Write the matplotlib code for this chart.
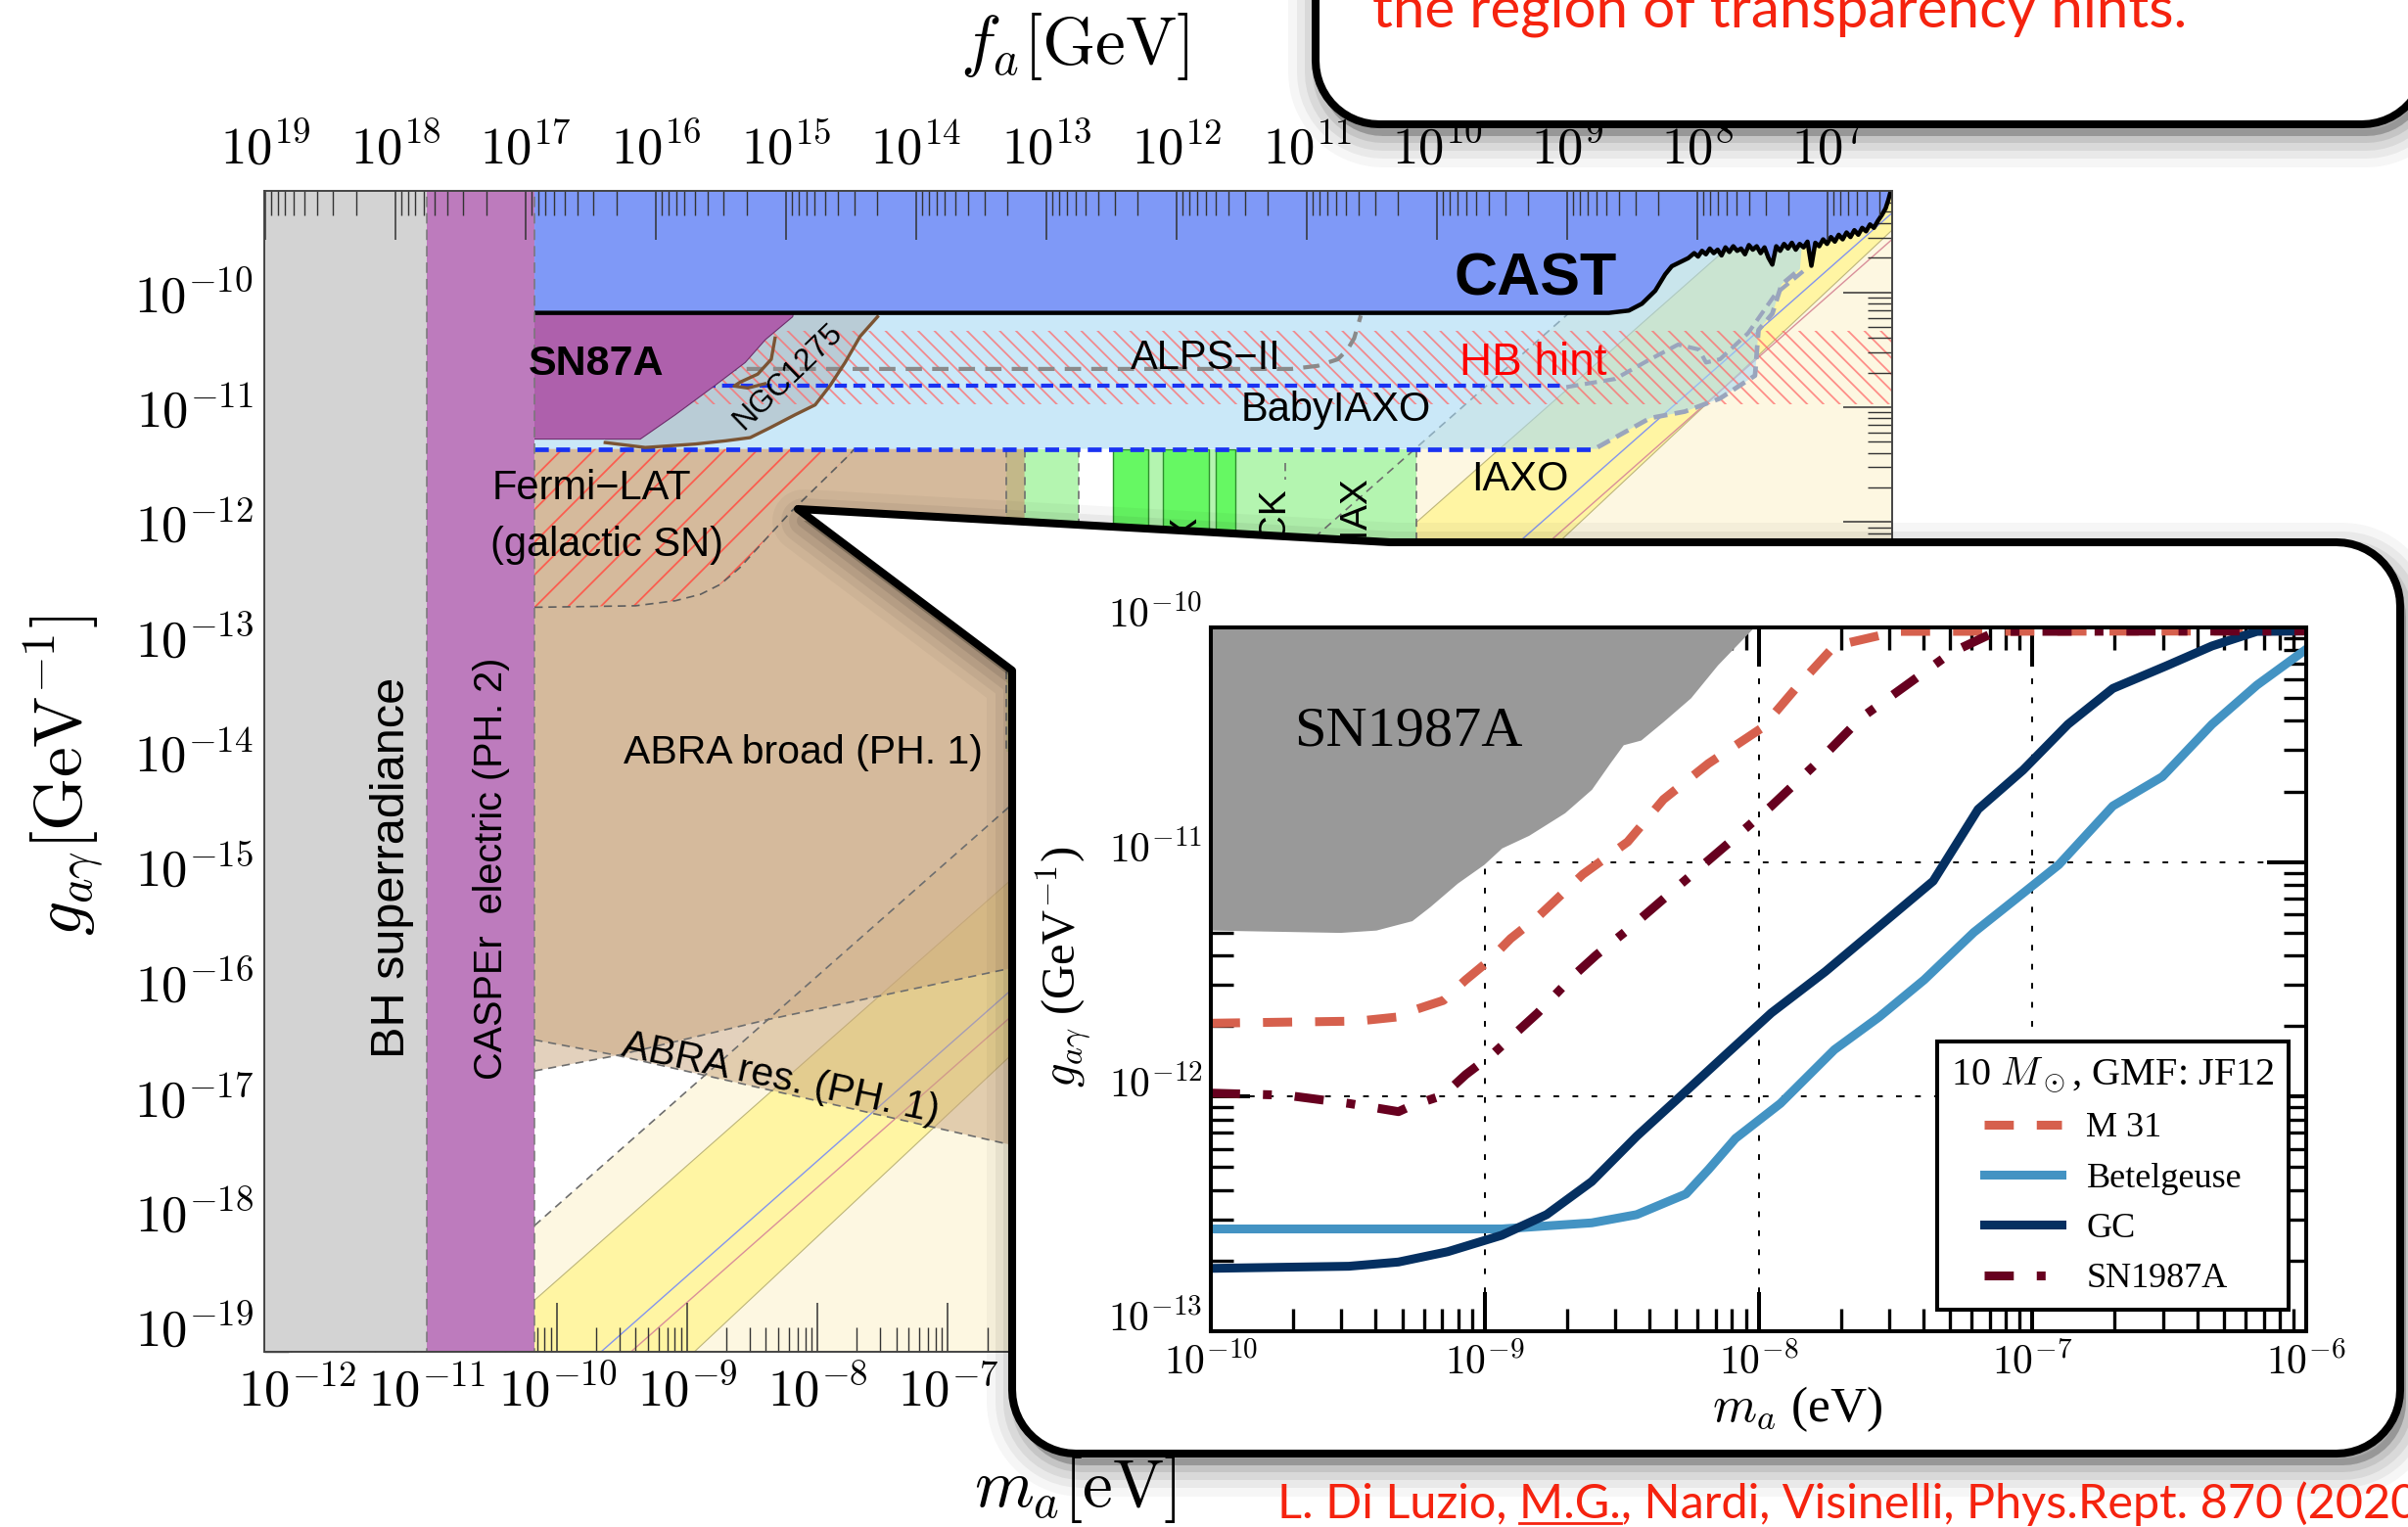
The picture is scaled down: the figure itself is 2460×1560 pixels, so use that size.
import numpy as np
import matplotlib.pyplot as plt
from matplotlib.patches import Polygon
from matplotlib.lines import Line2D
from matplotlib.ticker import LogLocator, NullFormatter

plt.rcParams['mathtext.fontset'] = 'cm'
plt.rcParams['hatch.linewidth'] = 1.3

W, H = 2460, 1560
SANS = 'Liberation Sans'
SERIF = 'Liberation Serif'
SLIDE = 'Lato'

# ---------------- overview plot, all values are log10(m_a/eV), log10(g/GeV^-1)
m_lim = (-12.25, 0.25)
g_lim = (-19.224, -9.118)
fa_per_ma = 5.7e6                       # f_a [GeV] = 5.7e6 / m_a [eV]
m_dec = list(range(-12, 1))
m_dec_shown = list(range(-12, -6))      # the rest sit under the zoom panel
g_dec = list(range(-19, -9))
fa_dec = list(range(7, 20))

bh_edge = -11.0
casper_edge = -10.175
iaxo_g = -11.364
babyiaxo_g = -10.815
hb_g = (-10.976, -10.334)
qcd_lines = {'ksvz': -9.56, 'dfsz': -9.79}     # log g = log m + offset
cream_k = -7.95

cast_lm = [-10.175, -1.925, -1.772, -1.671, -1.569, -1.493, -1.442, -1.315,
           -1.27, -1.24, -1.21, -1.18, -1.15, -1.12, -1.09, -1.06, -1.03, -1.00,
           -0.97, -0.94, -0.91, -0.88, -0.85, -0.82, -0.79, -0.76, -0.73, -0.70,
           -0.67, -0.64, -0.61, -0.58, -0.55, -0.52, -0.49, -0.46, -0.43, -0.40,
           -0.37, -0.34, -0.31, -0.28, -0.25, -0.22, -0.19, -0.16, -0.13, -0.10,
           -0.07, -0.04, -0.01, 0.02, 0.05, 0.08, 0.11, 0.14, 0.17, 0.20,
           0.22, 0.24]
cast_lg = [-10.18, -10.18, -10.16, -10.10, -9.987, -9.845, -9.774, -9.703,
           -9.66, -9.69, -9.64, -9.67, -9.62, -9.66, -9.63, -9.68, -9.61, -9.65,
           -9.60, -9.64, -9.62, -9.67, -9.59, -9.63, -9.60, -9.66, -9.61, -9.70,
           -9.76, -9.60, -9.64, -9.58, -9.62, -9.57, -9.63, -9.58, -9.61, -9.56,
           -9.77, -9.57, -9.60, -9.54, -9.58, -9.52, -9.56, -9.50, -9.54, -9.48,
           -9.52, -9.46, -9.50, -9.44, -9.47, -9.41, -9.44, -9.38, -9.33, -9.27,
           -9.20, -9.118]

sn87a_lm = [-10.3, -8.17, -8.193, -8.403, -8.557, -8.788, -9.094, -9.363, -10.3]
sn87a_lg = [-10.10, -10.10, -10.214, -10.414, -10.612, -10.811, -11.067, -11.279, -11.279]

ngc_lm = [-9.632, -9.324, -8.941, -8.710, -8.519, -8.366, -8.174, -8.020,
          -7.904, -7.790, -7.675, -7.541, -7.50]
ngc_lg = [-11.309, -11.352, -11.322, -11.294, -11.266, -11.180, -11.067, -10.981,
          -10.811, -10.612, -10.385, -10.214, -10.10]
ngc_loop_lm = [-8.328, -8.357, -8.461, -8.596, -8.642, -8.538, -8.406]
ngc_loop_lg = [-10.400, -10.584, -10.713, -10.783, -10.817, -10.834, -10.797]

fermi_lm = [-10.175, -9.40, -9.094, -8.90, -8.749, -8.60, -8.442, -8.212, -7.981, -7.751, -7.72]
fermi_lg = [-12.743, -12.730, -12.686, -12.630, -12.544, -12.400, -12.203, -11.918,
            -11.663, -11.408, -11.364]

abra_edge = -6.413
abra_res_lm = [-10.175, -9.540, -6.413]
abra_res_lg = [-16.509, -16.644, -17.449]
abra_broad_lm = [-10.175, -9.540, -8.375, -6.563, -6.413]
abra_broad_lg = [-16.779, -16.644, -16.330, -15.896, -15.860]

band_lm = [-10.175, 0.30, 0.30, -2.254, -8.942, -9.678, -10.175]
band_lg = [-18.775, -8.30, -9.406, -12.118, -19.218, -20.0, -20.0]

green_light = [(-6.554, -6.0), (-5.73, -3.406)]
green_bright = [(-5.73, -5.46), (-5.35, -4.998), (-4.943, -4.797)]
green_dashes = [-6.554, -6.413, -6.0, -3.406]

alps_lm = [-10.175, -4.363, -4.16, -4.007, -3.932, -3.881, -3.830]
alps_lg = [-10.668, -10.668, -10.641, -10.584, -10.499, -10.401, -10.203]

iaxo_lm = [-2.012, -1.609, -1.341, -1.072, -0.803, -0.776, -0.670, -0.599, -0.458]
iaxo_lg = [-11.350, -11.096, -11.039, -10.925, -10.726, -10.329, -10.187, -9.933, -9.799]
biaxo_lm = [-2.252, -1.877, -1.608, -1.394, -1.233, -1.179, -1.072, -0.857, -0.646, -0.399]
biaxo_lg = [-10.826, -10.755, -10.584, -10.456, -10.499, -10.612, -10.584, -10.357,
            -10.016, -9.786]

# ---------------- zoomed panel (log10 values)
sn_excl_lm = [-10.0, -9.528, -9.397, -9.266, -9.20, -9.10, -9.003, -8.938, -8.839,
              -8.708, -8.61, -8.544, -8.494, -8.43, -8.347, -8.248, -8.15, -8.018]
sn_excl_lg = [-11.29, -11.30, -11.29, -11.25, -11.19, -11.09, -11.01, -10.94, -10.886,
              -10.79, -10.69, -10.58, -10.50, -10.48, -10.40, -10.30, -10.16, -10.0]

m31_lm = [-10.0, -9.463, -9.315, -9.266, -9.151, -9.069, -8.987, -8.905, -8.806,
          -8.642, -8.478, -8.347, -8.183, -7.986, -7.854, -7.723, -7.493, -6.0]
m31_lg = [-11.687, -11.678, -11.66, -11.634, -11.59, -11.502, -11.423, -11.326, -11.234,
          -11.053, -10.914, -10.733, -10.58, -10.427, -10.246, -10.079, -10.017, -10.015]

bet_lm = [-10.0, -8.938, -8.609, -8.445, -8.265, -8.182, -8.084, -7.92, -7.723, -7.559,
          -7.395, -7.214, -7.034, -6.903, -6.706, -6.525, -6.344, -6.18, -6.0]
bet_lg = [-12.564, -12.564, -12.538, -12.503, -12.415, -12.31, -12.178, -12.029, -11.80,
          -11.66, -11.502, -11.30, -11.133, -11.011, -10.761, -10.636, -10.413, -10.246,
          -10.093]

gc_lm = [-10.0, -9.496, -9.315, -9.135, -8.938, -8.774, -8.609, -8.445, -8.281, -8.117,
         -7.953, -7.756, -7.559, -7.362, -7.198, -7.034, -6.870, -6.706, -6.509, -6.344,
         -6.18, -6.0]
gc_lg = [-12.732, -12.723, -12.705, -12.661, -12.591, -12.503, -12.362, -12.169, -11.994,
         -11.818, -11.643, -11.467, -11.274, -11.081, -10.775, -10.608, -10.413, -10.26,
         -10.163, -10.079, -10.017, -10.015]

sn1987a_lm = [-10.0, -9.725, -9.496, -9.315, -9.266, -9.151, -9.069, -8.97, -8.806, -8.675,
              -8.593, -8.478, -8.30, -8.117, -7.953, -7.789, -7.625, -7.46, -7.296,
              -7.132, -6.0]
sn1987a_lg = [-11.985, -11.994, -12.029, -12.064, -12.038, -11.994, -11.906, -11.818,
              -11.643, -11.484, -11.397, -11.289, -11.11, -10.927, -10.761, -10.58,
              -10.385, -10.246, -10.107, -10.017, -10.015]

star_names = ['M 31', 'Betelgeuse', 'GC', 'SN1987A']
star_colors = ['#d6604d', '#4393c3', '#053061', '#67001f']


def P(a):
    return 10.0 ** np.asarray(a, dtype=float)


def px_box(l, t, r, b):
    return [l / W, 1 - b / H, (r - l) / W, (b - t) / H]


def fig_xy(pts):
    return [(x / W, 1 - y / H) for x, y in pts]


fig = plt.figure(figsize=(W / 100, H / 100), dpi=100)
fig.patch.set_facecolor('white')

# ======================= overview plot =======================
ax = fig.add_axes(px_box(270, 195, 1933, 1381))
ax.set_xscale('log')
ax.set_yscale('log')
ax.set_xlim(*P(m_lim))
ax.set_ylim(*P(g_lim))

top, bottom, right = -9.0, -20.0, 1.0


def fill(lm, lg, z, **kw):
    kw.setdefault('lw', 0)
    ax.fill(P(lm), P(lg), zorder=z, **kw)


def dashed(lm, lg, z=1.25, color='#6e6e6e', lw=1.2, ls=(0, (5, 3.5))):
    ax.plot(P(lm), P(lg), color=color, lw=lw, ls=ls, zorder=z)


# QCD axion bands
fill([casper_edge, right, right, casper_edge],
     [casper_edge + cream_k, right + cream_k, bottom, bottom], 1.0, color='#fdf7e1')
fill(band_lm, band_lg, 1.05, color='#fff5a3')
ax.plot(P(band_lm[:2]), P(band_lg[:2]), color='#bdb57a', lw=0.8, zorder=1.1)
ax.plot(P(band_lm[2:6]), P(band_lg[2:6]), color='#bdb57a', lw=0.8, zorder=1.1)
ax.plot(P([casper_edge, right]), P([casper_edge + qcd_lines['ksvz'], right + qcd_lines['ksvz']]),
        color='#8394ee', lw=1.0, zorder=1.1)
ax.plot(P([casper_edge, right]), P([casper_edge + qcd_lines['dfsz'], right + qcd_lines['dfsz']]),
        color='#d98f9a', lw=1.0, zorder=1.1)

# haloscopes
for lo, hi in green_light:
    fill([lo, hi, hi, lo], [iaxo_g, iaxo_g, -14, -14], 1.15, color='#b4f5b0')
for lo, hi in green_bright:
    fill([lo, hi, hi, lo], [iaxo_g, iaxo_g, -14, -14], 1.16,
         facecolor='#66f863', edgecolor='#2e8f2e', lw=1.0)
for x in green_dashes:
    dashed([x, x], [iaxo_g, -14])
dashed([-4.408, -4.408], [-11.49, -11.635])

# ABRACADABRA
fill(abra_res_lm + [abra_edge, casper_edge], abra_res_lg + [iaxo_g, iaxo_g], 1.2,
     color='#c9a57d', alpha=0.5)
fill(abra_broad_lm + [abra_edge, casper_edge], abra_broad_lg + [iaxo_g, iaxo_g], 1.2,
     color='#c9a57d', alpha=0.5)
dashed(abra_res_lm, abra_res_lg)
dashed(abra_broad_lm, abra_broad_lg)
dashed([casper_edge, -2.23], [casper_edge + cream_k, -2.23 + cream_k])

# Fermi-LAT galactic SN
ax.fill(P(fermi_lm + [casper_edge]), P(fermi_lg + [iaxo_g]), zorder=1.3,
        facecolor='none', edgecolor=(1.0, 0.33, 0.28, 0.9), hatch='/', lw=0)
dashed(fermi_lm, fermi_lg, z=1.31, color='#5e5e5e')

# helioscope projections
fill([casper_edge, iaxo_lm[0]] + iaxo_lm + [-0.40, casper_edge],
     [iaxo_g, iaxo_g] + iaxo_lg + [top, top], 1.35, color='#a4d8f4', alpha=0.58)

# NGC1275
fill(ngc_lm + [-9.70], ngc_lg + [-10.10], 1.4, color='#b9ccd6')

# HB hint
ax.fill(P([casper_edge, right, right, casper_edge]), P([hb_g[0], hb_g[0], hb_g[1], hb_g[1]]),
        zorder=1.45, facecolor='none', edgecolor=(1.0, 0.42, 0.42, 0.75), hatch='\\\\', lw=0)

ax.plot(P(alps_lm), P(alps_lg), color='#8a8a8a', lw=3, ls=(0, (4, 2.5)), zorder=1.5)
ax.plot(P([casper_edge, biaxo_lm[0]]), P([babyiaxo_g, babyiaxo_g]), color='#1a33f2',
        lw=3, ls=(0, (3, 1.6)), zorder=1.5)
ax.plot(P(biaxo_lm), P(biaxo_lg), color='#9aa5bd', lw=3, ls=(0, (3, 1.6)), zorder=1.5)
ax.plot(P([casper_edge, iaxo_lm[0]]), P([iaxo_g, iaxo_g]), color='#1a33f2',
        lw=3.4, ls=(0, (3, 1.6)), zorder=1.5)
ax.plot(P(iaxo_lm), P(iaxo_lg), color='#9aa5bd', lw=3.4, ls=(0, (3, 1.6)), zorder=1.5)

ax.plot(P(ngc_lm[:-1]), P(ngc_lg[:-1]), color='#7b5433', lw=2.4, zorder=1.55)
ax.plot(P(ngc_loop_lm), P(ngc_loop_lg), color='#7b5433', lw=2.4, zorder=1.55)

# SN1987A, CAST
fill(sn87a_lm, sn87a_lg, 1.6, facecolor='#ae60ac', edgecolor='#6e2c6c', lw=0.8)
fill([casper_edge] + cast_lm + [0.3], [top] + cast_lg + [top], 1.7, color='#7f99f7')
ax.plot(P(cast_lm), P(cast_lg), color='black', lw=3.2, zorder=1.75)

# BH superradiance, CASPEr
fill([m_lim[0] - 1, bh_edge, bh_edge, m_lim[0] - 1], [bottom, bottom, top, top], 1.8,
     color='#d3d3d3')
fill([bh_edge, casper_edge, casper_edge, bh_edge], [bottom, bottom, top, top], 1.8,
     color='#bd7bbd')
for x in (bh_edge, casper_edge):
    dashed([x, x], [bottom, top], z=1.85, color='#777777', lw=1.1, ls=(0, (7, 4)))


def label(lm, lg, s, size, **kw):
    kw.setdefault('family', SANS)
    ax.text(P(lm), P(lg), s, fontsize=size, ha=kw.pop('ha', 'center'),
            va=kw.pop('va', 'center'), zorder=3, **kw)


label(-2.486, -9.893, 'CAST', 44, weight='bold')
label(-9.703, -10.628, 'SN87A', 31, weight='bold')
label(-8.229, -10.735, 'NGC1275', 23, rotation=44)
label(-5.021, -10.575, 'ALPS\u2212II', 30)
label(-2.509, -10.615, 'HB hint', 33, color='red')
label(-4.019, -11.029, 'BabyIAXO', 30)
label(-2.604, -11.631, 'IAXO', 30)
label(-9.738, -11.711, 'Fermi\u2212LAT', 30)
label(-9.620, -12.206, '(galactic SN)', 30)
label(-8.111, -14.011, 'ABRA broad (PH. 1)', 29.5)
label(-8.288, -16.845, 'ABRA res. (PH. 1)', 29.5, rotation=-12, rotation_mode='anchor')
label(-11.271, -15.013, 'BH superradiance', 35, rotation=90)
label(-10.505, -15.013, 'CASPEr  electric (PH. 2)', 28.5, rotation=90)
label(-5.163, -11.952, 'ADMX', 28, rotation=90, va='top')
label(-4.502, -11.684, 'HAYSTACK', 28, rotation=90, va='top')
label(-3.877, -11.591, 'MADMAX', 28, rotation=90, va='top')

# axes and ticks
for s in ax.spines.values():
    s.set_linewidth(1.2)
    s.set_color('#444444')
ax.set_xticks(P(m_dec))
ax.set_xticklabels([r'$10^{%d}$' % k if k in m_dec_shown else '' for k in m_dec])
ax.set_yticks(P(g_dec))
ax.set_yticklabels([r'$10^{%d}$' % k for k in g_dec])
ax.xaxis.set_minor_locator(LogLocator(base=10, subs=np.arange(2, 10), numticks=100))
ax.yaxis.set_minor_locator(LogLocator(base=10, subs=np.arange(2, 10), numticks=100))
ax.xaxis.set_minor_formatter(NullFormatter())
ax.yaxis.set_minor_formatter(NullFormatter())
ax.tick_params(which='major', direction='in', length=36, width=1.1, color='#333333',
               labelsize=38, top=False, right=True)
ax.tick_params(which='minor', direction='in', length=18, width=1.0, color='#333333',
               top=False, right=True)
ax.tick_params(axis='x', pad=10)
ax.tick_params(axis='y', pad=8)

ax_top = ax.twiny()
ax_top.set_xscale('log')
ax_top.set_xlim(fa_per_ma / P(m_lim[0]), fa_per_ma / P(m_lim[1]))
ax_top.set_xticks(P(fa_dec))
ax_top.set_xticklabels([r'$10^{%d}$' % k for k in fa_dec])
ax_top.xaxis.set_minor_locator(LogLocator(base=10, subs=np.arange(2, 10), numticks=100))
ax_top.xaxis.set_minor_formatter(NullFormatter())
ax_top.tick_params(which='major', direction='in', length=36, width=1.1, color='#333333',
                   labelsize=38, pad=12)
ax_top.tick_params(which='minor', direction='in', length=18, width=1.0, color='#333333')
for s in ax_top.spines.values():
    s.set_linewidth(1.2)
    s.set_color('#444444')

fig.text(1098 / W, 1 - 47 / H, r'$f_a[\mathrm{GeV}]$', fontsize=50, ha='center', va='center')
fig.text(1098 / W, 1 - 1522 / H, r'$m_a[\mathrm{eV}]$', fontsize=50, ha='center', va='center')
fig.text(66 / W, 1 - 792 / H, r'$g_{a\gamma}[\mathrm{GeV}^{-1}]$', fontsize=50,
         ha='center', va='center', rotation=90)


# ======================= callout and boxes =======================
def arc(cx, cy, r, a0, a1, n=14):
    t = np.radians(np.linspace(a0, a1, n))
    return list(zip(cx + r * np.cos(t), cy + r * np.sin(t)))


def soft_shadow(pts, dx, dy, z):
    sp = [(x + dx, y + dy) for x, y in pts]
    for lw, a in [(64, 0.035), (46, 0.05), (30, 0.065), (14, 0.09)]:
        fig.add_artist(Polygon(fig_xy(sp), closed=True, transform=fig.transFigure,
                               facecolor=(0, 0, 0, a), edgecolor=(0, 0, 0, a),
                               lw=lw * 0.72, joinstyle='round', zorder=z))


rad = 65
L, T, R, B = 1034, 554, 2452, 1485
callout = ([(815, 520), (1420, T)] + arc(R - rad, T + rad, rad, -90, 0)
           + arc(R - rad, B - rad, rad, 0, 90) + arc(L + rad, B - rad, rad, 90, 180)
           + [(L, 685)])
soft_shadow(callout, 6, 12, 5)
fig.add_artist(Polygon(fig_xy(callout), closed=True, transform=fig.transFigure,
                       facecolor='white', edgecolor='black', lw=5.8, joinstyle='round',
                       zorder=6))

L2, B2, R2 = 1344, 127, 2478
note_box = ([(L2, -120)] + arc(L2 + rad, B2 - rad, rad, 180, 90)
            + arc(R2 - rad, B2 - rad, rad, 90, 0) + [(R2, -120)])
soft_shadow(note_box, 4, 12, 5)
fig.add_artist(Polygon(fig_xy(note_box), closed=True, transform=fig.transFigure,
                       facecolor='white', edgecolor='black', lw=5.8, joinstyle='round',
                       zorder=6))
fig.text(1402 / W, 1 - 28 / H, 'the region of transparency hints.', fontsize=42,
         family=SLIDE, color='#f5230f', ha='left', va='baseline', zorder=7)

# ======================= zoomed panel =======================
axi = fig.add_axes(px_box(1237, 641, 2356, 1360))
axi.set_zorder(10)
axi.set_xscale('log')
axi.set_yscale('log')
axi.set_xlim(1e-10, 1e-6)
axi.set_ylim(1e-13, 1e-10)
axi.set_axisbelow(True)
axi.grid(True, which='major', color='black', lw=1.4, ls=(0, (3, 7)))

axi.fill_between(P(sn_excl_lm), P(sn_excl_lg), 1e-10, color='#999999', lw=0, zorder=1)
axi.text(P(-9.278), P(-10.446), 'SN1987A', fontsize=42, family=SERIF, ha='center',
         va='center', zorder=3)

styles = [(0, (3.3, 2.6)), '-', '-', (0, (3.3, 2.6, 1.0, 2.6))]
curves = [(m31_lm, m31_lg), (bet_lm, bet_lg), (gc_lm, gc_lg), (sn1987a_lm, sn1987a_lg)]
handles = []
for (lm, lg), name, c, ls in zip(curves, star_names, star_colors, styles):
    axi.plot(P(lm), P(lg), color=c, lw=6.5, ls=ls, zorder=2)
    handles.append(Line2D([], [], color=c, lw=6.5, ls=ls))

leg = axi.legend(handles, star_names, title=r'10 $M_\odot$, GMF: JF12',
                 loc='lower right', bbox_to_anchor=(0.984, 0.031), borderaxespad=0,
                 prop={'family': SERIF, 'size': 26},
                 title_fontproperties={'family': SERIF, 'size': 29},
                 frameon=True, fancybox=False, framealpha=1, edgecolor='black',
                 borderpad=0.4, labelspacing=0.5, handlelength=2.2, handletextpad=0.7)
leg.get_frame().set_linewidth(2.9)
leg.set_zorder(20)

axi.set_xticks(P([-10, -9, -8, -7, -6]))
axi.set_xticklabels([r'$\mathsf{10^{%d}}$' % k for k in [-10, -9, -8, -7, -6]])
axi.set_yticks(P([-13, -12, -11, -10]))
axi.set_yticklabels([r'$\mathsf{10^{%d}}$' % k for k in [-13, -12, -11, -10]],
                    va='baseline')
axi.xaxis.set_minor_locator(LogLocator(base=10, subs=np.arange(2, 10), numticks=100))
axi.yaxis.set_minor_locator(LogLocator(base=10, subs=np.arange(2, 10), numticks=100))
axi.xaxis.set_minor_formatter(NullFormatter())
axi.yaxis.set_minor_formatter(NullFormatter())
axi.tick_params(which='major', direction='in', length=29, width=2.9, top=True, right=True,
                labelsize=30)
axi.tick_params(which='minor', direction='in', length=16.5, width=2.4, top=True, right=True)
axi.tick_params(axis='x', pad=8)
axi.tick_params(axis='y', pad=6)
for s in axi.spines.values():
    s.set_linewidth(2.9)

fig.text(1836 / W, 1 - 1440 / H, r'$m_a$ (eV)', fontsize=37, family=SERIF,
         ha='center', va='center', zorder=11)
fig.text(1087 / W, 1 - 988 / H, r'$g_{a\gamma}$ (GeV$^{-1}$)', fontsize=35, family=SERIF,
         ha='center', va='center', rotation=90, zorder=11)

# ======================= reference line =======================
red = '#f5230f'
cite = 'L. Di Luzio, M.G., Nardi, Visinelli, Phys.Rept. 870 (2020)'
cx, cy = 1305, 1551
fig.text(cx / W, 1 - cy / H, cite, fontsize=35, family=SLIDE, color=red,
         ha='left', va='baseline', zorder=12)
rend = fig.canvas.get_renderer()
pre = fig.text(cx / W, 1 - cy / H, 'L. Di Luzio, M.G.', fontsize=35, family=SLIDE,
               ha='left', va='baseline')
mg = fig.text(cx / W, 1 - cy / H, 'M.G.', fontsize=35, family=SLIDE, ha='left', va='baseline')
x1 = pre.get_window_extent(rend).x1
x0 = x1 - mg.get_window_extent(rend).width
pre.remove()
mg.remove()
fig.add_artist(Line2D([x0 / W, x1 / W], [1 - (cy + 5) / H] * 2, transform=fig.transFigure,
                      color=red, lw=2.0, zorder=12))

fig.savefig('out.png', dpi=100)
